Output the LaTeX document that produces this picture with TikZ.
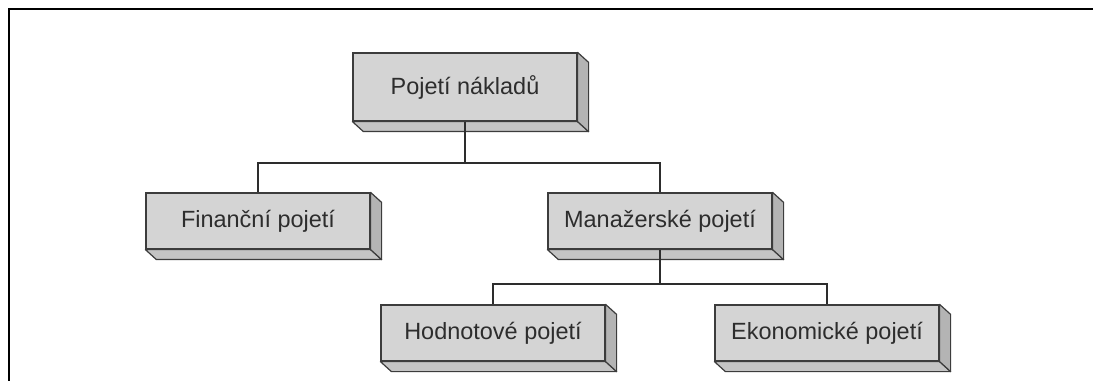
\documentclass[tikz,border=0pt]{standalone}
\usepackage{fontspec}
\setmainfont{Liberation Sans}
\usetikzlibrary{calc}

\tikzset{
  kostka/.style={draw={rgb, 255:red, 60; green, 60; blue, 60}, line width=0.9pt, fill={rgb, 255:red, 212; green, 212; blue, 212}, text={rgb, 255:red, 45; green, 45; blue, 45}, minimum width=168pt, minimum height=42pt, inner sep=0pt, font=\fontsize{17.6}{20}\selectfont},
  spodek/.style={draw={rgb, 255:red, 60; green, 60; blue, 60}, line width=0.9pt, line join=round, fill={rgb, 255:red, 196; green, 196; blue, 196}},
  bok/.style={draw={rgb, 255:red, 60; green, 60; blue, 60}, line width=0.9pt, line join=round, fill={rgb, 255:red, 180; green, 180; blue, 180}},
  spoj/.style={draw={rgb, 255:red, 45; green, 45; blue, 45}, line width=1.5pt}
}

\begin{document}
\begin{tikzpicture}[x=0.75pt,y=0.75pt,yscale=-1,xscale=1]
\useasboundingbox (0,0) rectangle (1093,381);

%Frame
\draw [line width=1.9pt] (1093,9) -- (9,9) -- (9,381) ;

% Text Node
\node [kostka, minimum height=51pt] (naklady) at (465,87) {Pojetí nákladů};
% Text Node
\node [kostka] (financni) at (258,221) {Finanční pojetí};
% Text Node
\node [kostka] (manazerske) at (660,221) {Manažerské pojetí};
% Text Node
\node [kostka] (hodnotove) at (493,333) {Hodnotové pojetí};
% Text Node
\node [kostka] (ekonomicke) at (827,333) {Ekonomické pojetí};

%Shape: 3D faces
\foreach \n in {naklady,financni,manazerske,hodnotove,ekonomicke}{
  \draw [spodek] (\n.south west) -- ++(11,10) -- ($(\n.south east)+(11,10)$) -- (\n.south east) -- cycle ;
  \draw [bok] (\n.north east) -- ++(11,10) -- ($(\n.south east)+(11,10)$) -- (\n.south east) -- cycle ;
}

%Straight Lines
\draw [spoj] (naklady.south) -- ++(0,41) -| (financni.north) ;
\draw [spoj] (naklady.south) -- ++(0,41) -| (manazerske.north) ;
\draw [spoj] (manazerske.south) -- ++(0,34) -| (hodnotove.north) ;
\draw [spoj] (manazerske.south) -- ++(0,34) -| (ekonomicke.north) ;

\end{tikzpicture}
\end{document}
